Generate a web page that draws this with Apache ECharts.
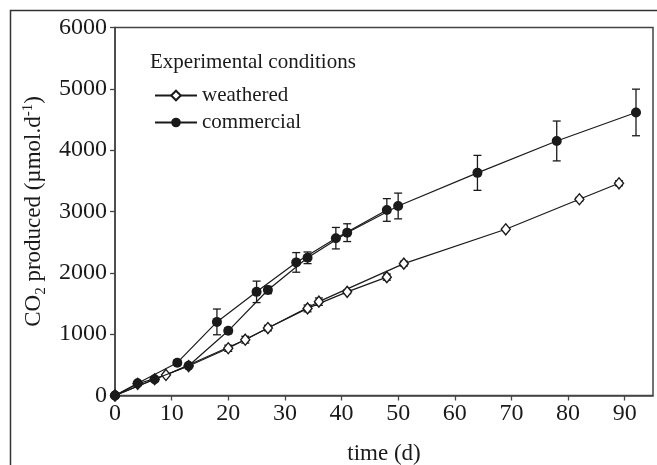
<!DOCTYPE html>
<html>
<head>
<meta charset="utf-8">
<script src="https://cdn.jsdelivr.net/npm/echarts@6/dist/echarts.min.js"></script>
<style>
html,body{margin:0;padding:0;background:#fff;}
#chart{width:657px;height:465px;}
</style>
</head>
<body>
<div id="chart"></div>
<script>
// ---- data ----
const xTickLabels = [0, 10, 20, 30, 40, 50, 60, 70, 80, 90];
const yTickLabels = [0, 1000, 2000, 3000, 4000, 5000, 6000];

const weatheredADays   = [0, 7, 13, 20, 27, 34, 41, 48];
const weatheredAValues = [0, 265, 480, 770, 1100, 1420, 1690, 1930];
const weatheredAErr    = [0, 10, 15, 50, 45, 55, 30, 50];

const weatheredBDays   = [0, 4, 9, 23, 36, 51, 69, 82, 89];
const weatheredBValues = [0, 190, 335, 910, 1530, 2150, 2710, 3200, 3460];
const weatheredBErr    = [0, 10, 15, 55, 60, 40, 20, 30, 40];

const commercialADays   = [0, 4, 11, 18, 25, 32, 39, 48];
const commercialAValues = [0, 200, 535, 1200, 1690, 2170, 2565, 3025];
const commercialAErr    = [0, 20, 40, 210, 175, 160, 175, 185];

const commercialBDays   = [0, 7, 13, 20, 27, 34, 41, 50, 64, 78, 92];
const commercialBValues = [0, 265, 485, 1055, 1720, 2245, 2655, 3090, 3630, 4150, 4615];
const commercialBErr    = [0, 15, 20, 45, 60, 95, 145, 210, 285, 325, 380];

// ---- helpers ----
const FONT = '"Liberation Serif", "Times New Roman", serif';
const INK = '#1a1a1a';
function pairs(days, vals) { return days.map((d, i) => [d, vals[i]]); }
function errs(days, vals, e) { return days.map((d, i) => [d, vals[i] - e[i], vals[i] + e[i]]); }

function renderErr(params, api) {
  const x = api.value(0), lo = api.value(1), hi = api.value(2);
  if (!(hi - lo > 0)) return null;
  const pt = api.coord([x, hi]), pb = api.coord([x, lo]);
  const hw = 4;
  const st = { stroke: INK, lineWidth: 1.3 };
  return {
    type: 'group',
    children: [
      { type: 'line', shape: { x1: pt[0], y1: pt[1], x2: pb[0], y2: pb[1] }, style: st },
      { type: 'line', shape: { x1: pt[0] - hw, y1: pt[1], x2: pt[0] + hw, y2: pt[1] }, style: st },
      { type: 'line', shape: { x1: pb[0] - hw, y1: pb[1], x2: pb[0] + hw, y2: pb[1] }, style: st }
    ]
  };
}

const weatheredLine = (name, data) => ({
  name: name, type: 'line', data: data, z: 3,
  symbol: 'diamond', symbolSize: [9, 11], showAllSymbol: true,
  lineStyle: { color: INK, width: 1.2 },
  itemStyle: { color: '#fff', borderColor: INK, borderWidth: 1.4 },
  emphasis: { disabled: true }, animation: false
});
const commercialLine = (name, data) => ({
  name: name, type: 'line', data: data, z: 4,
  symbol: 'circle', symbolSize: 10, showAllSymbol: true,
  lineStyle: { color: INK, width: 1.2 },
  itemStyle: { color: INK, borderColor: INK, borderWidth: 0 },
  emphasis: { disabled: true }, animation: false
});
const errSeries = (data, z) => ({
  type: 'custom', renderItem: renderErr, data: data, z: z,
  encode: { x: 0, y: [1, 2] }, silent: true, animation: false
});

const chart = echarts.init(document.getElementById('chart'), null, { renderer: 'canvas' });
chart.setOption({
  animation: false,
  backgroundColor: '#fff',
  textStyle: { fontFamily: FONT, color: INK },
  title: {
    text: 'Experimental conditions',
    left: 145, top: 47,
    textStyle: { fontFamily: FONT, fontSize: 21, fontWeight: 'normal', color: INK }
  },
  legend: {
    data: ['weathered', 'commercial'],
    orient: 'vertical', left: 149, top: 80,
    itemWidth: 42, itemHeight: 12, itemGap: 6,
    textStyle: { fontFamily: FONT, fontSize: 21, color: INK },
    selectedMode: false
  },
  graphic: [{
    type: 'polyline', silent: true,
    shape: { points: [[10.5, 465], [10.5, 10.5], [657, 10.5]] },
    style: { stroke: '#333', lineWidth: 1.5, fill: null }
  }],
  grid: {
    left: 115, right: 4, top: 27.5, bottom: 69.5,
    containLabel: false, outerBoundsMode: 'none',
    show: true, borderColor: '#444', borderWidth: 1.5, backgroundColor: 'transparent'
  },
  xAxis: {
    type: 'value', min: 0, max: 95, interval: 10,
    name: 'time (d)', nameLocation: 'middle', nameGap: 47,
    nameTextStyle: { fontFamily: FONT, fontSize: 23, color: INK },
    axisLine: { lineStyle: { color: '#444', width: 1.5 } },
    axisTick: { show: true, inside: false, length: 5, lineStyle: { color: '#444', width: 1.3 } },
    axisLabel: {
      fontFamily: FONT, fontSize: 24, color: INK, margin: 6,
      showMaxLabel: false,
      formatter: v => (xTickLabels.indexOf(v) >= 0 ? String(v) : '')
    },
    splitLine: { show: false }
  },
  yAxis: {
    type: 'value', min: 0, max: 6000, interval: 1000,
    name: '{n|CO}{sub|2}{n| produced (µmol.d}{sup|-1}{n|)}',
    nameLocation: 'middle', nameGap: 57, nameRotate: 90,
    nameTextStyle: {
      fontFamily: FONT, fontSize: 23, color: INK,
      rich: {
        n: { fontFamily: FONT, fontSize: 23, color: INK, lineHeight: 28 },
        sub: { fontFamily: FONT, fontSize: 15, color: INK, verticalAlign: 'bottom', lineHeight: 15 },
        sup: { fontFamily: FONT, fontSize: 15, color: INK, verticalAlign: 'top', lineHeight: 15 }
      }
    },
    axisLine: { show: true, lineStyle: { color: '#444', width: 1.5 } },
    axisTick: { show: true, inside: false, length: 5, lineStyle: { color: '#444', width: 1.3 } },
    axisLabel: {
      fontFamily: FONT, fontSize: 24, color: INK, margin: 8,
      formatter: v => (yTickLabels.indexOf(v) >= 0 ? String(v) : '')
    },
    splitLine: { show: false }
  },
  series: [
    errSeries(errs(weatheredADays, weatheredAValues, weatheredAErr), 2),
    errSeries(errs(weatheredBDays, weatheredBValues, weatheredBErr), 2),
    errSeries(errs(commercialADays, commercialAValues, commercialAErr), 2),
    errSeries(errs(commercialBDays, commercialBValues, commercialBErr), 2),
    weatheredLine('weathered', pairs(weatheredADays, weatheredAValues)),
    weatheredLine('weathered', pairs(weatheredBDays, weatheredBValues)),
    commercialLine('commercial', pairs(commercialADays, commercialAValues)),
    commercialLine('commercial', pairs(commercialBDays, commercialBValues))
  ]
});
</script>
</body>
</html>
